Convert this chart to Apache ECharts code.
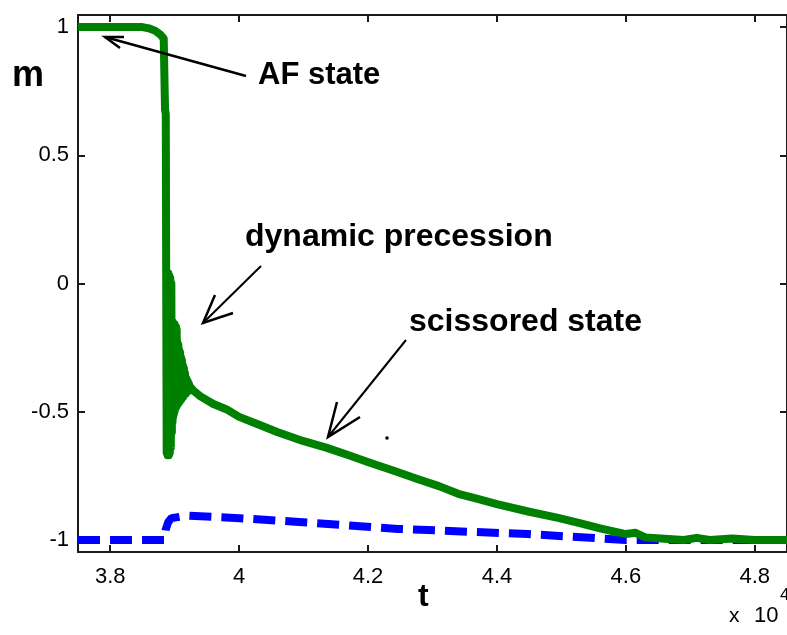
<!DOCTYPE html>
<html>
<head>
<meta charset="utf-8">
<script src="https://cdn.jsdelivr.net/npm/echarts@6/dist/echarts.min.js"></script>
<style>
  html, body { margin: 0; padding: 0; background: #fff; }
  #chart { width: 787px; height: 635px; }
</style>
</head>
<body>
<div id="chart"></div>
<script>
// tick positions (t in raw units, label shows t / 1e4)
var tTicks = [38000, 40000, 42000, 44000, 46000, 48000];
var mTicks = [-1, -0.5, 0, 0.5, 1];

// green curve: m(t), AF state -> dynamic precession -> scissored state
var greenT = [37500, 38500, 38600, 38700, 38780, 38830, 38842, 38850, 38862,
  38868, 38876, 38884, 38892, 38900, 38908, 38916, 38924, 38932, 38940, 38948, 38956,
  38961, 38966, 38971, 38976, 38981, 38986, 38991, 38996, 39001, 39006, 39011, 39016,
  39021, 39026, 39031, 39036, 39043, 39050, 39057, 39064, 39071, 39078, 39085, 39092,
  39099, 39106, 39113, 39120, 39128, 39135, 39143, 39150, 39160, 39170, 39180, 39190,
  39200, 39210, 39220, 39230,
  39300, 39400, 39600, 39800, 40000, 40300, 40600, 41000, 41350, 41700, 42040, 42400, 42800,
  43100, 43400, 43700, 44000, 44500, 44950, 45300, 45600, 46000, 46150, 46300, 46600, 46900,
  47100, 47300, 47650, 48000, 48500];
var greenM = [1.0, 1.0, 0.995, 0.985, 0.97, 0.955, 0.95, 0.68, 0.66,
  0.05, -0.66, 0.03, -0.67, 0.04, -0.67, 0.03, -0.66, 0.02, -0.64, 0.0, -0.58,
  -0.15, -0.54, -0.15, -0.52, -0.16, -0.51, -0.16, -0.50, -0.16, -0.49, -0.17, -0.48,
  -0.17, -0.48, -0.18, -0.47, -0.23, -0.47, -0.24, -0.46, -0.26, -0.46, -0.27, -0.45,
  -0.29, -0.45, -0.30, -0.44, -0.32, -0.44, -0.33, -0.43, -0.35, -0.43, -0.37, -0.42,
  -0.38, -0.42, -0.39, -0.40,
  -0.42, -0.44, -0.47, -0.49, -0.52, -0.55, -0.58, -0.615, -0.64, -0.67, -0.70, -0.73, -0.765,
  -0.79, -0.82, -0.84, -0.86, -0.89, -0.914, -0.935, -0.955, -0.977, -0.972, -0.99, -0.995, -1.0,
  -0.992, -1.0, -0.994, -1.0, -1.0];

// blue dashed curve
var blueT = [37500, 38840, 38860, 38900, 38950, 39200, 39600, 40000, 40930, 42470, 44480, 46000, 48500];
var blueM = [-1.0, -1.0, -0.96, -0.93, -0.915, -0.905, -0.91, -0.915, -0.93, -0.957, -0.977, -1.0, -1.0];

function pairs(xs, ys) {
  var out = [];
  for (var i = 0; i < xs.length; i++) out.push([xs[i], ys[i]]);
  return out;
}

var chart = echarts.init(document.getElementById('chart'), null, { renderer: 'canvas' });

var font = 'Liberation Sans, Arial, Helvetica, sans-serif';
var axisLine = { show: true, onZero: false, lineStyle: { color: '#1a1a1a', width: 2 } };
var tickStyle = { color: '#1a1a1a', width: 2 };

chart.setOption({
  animation: false,
  backgroundColor: '#fff',
  grid: { left: 78, top: 15, width: 711, height: 537, containLabel: false },
  xAxis: [{
    type: 'value', min: 37500, max: 48500, position: 'bottom',
    axisLine: axisLine,
    axisTick: { show: true, inside: true, length: 7, lineStyle: tickStyle, customValues: tTicks },
    axisLabel: {
      show: true, margin: 14, color: '#000', fontSize: 22, fontFamily: font,
      customValues: tTicks,
      formatter: function (v) { return String(v / 10000); }
    },
    splitLine: { show: false }
  }, {
    type: 'value', min: 37500, max: 48500, position: 'top',
    axisLine: axisLine,
    axisTick: { show: true, inside: true, length: 7, lineStyle: tickStyle, customValues: tTicks },
    axisLabel: { show: false },
    splitLine: { show: false }
  }],
  yAxis: [{
    type: 'value', min: -1.047, max: 1.047, position: 'left',
    axisLine: axisLine,
    axisTick: { show: true, inside: true, length: 7, lineStyle: tickStyle, customValues: mTicks },
    axisLabel: {
      show: true, margin: 9, color: '#000', fontSize: 22, fontFamily: font,
      customValues: mTicks,
      formatter: function (v) { return String(v); }
    },
    splitLine: { show: false }
  }, {
    type: 'value', min: -1.047, max: 1.047, position: 'right',
    axisLine: axisLine,
    axisTick: { show: true, inside: true, length: 7, lineStyle: tickStyle, customValues: mTicks },
    axisLabel: { show: false },
    splitLine: { show: false }
  }],
  series: [{
    name: 'blue', type: 'line', xAxisIndex: 0, yAxisIndex: 0,
    data: pairs(blueT, blueM), showSymbol: false, symbol: 'none', z: 2,
    lineStyle: { color: '#0000ff', width: 8, type: [22, 10], cap: 'butt' }
  }, {
    name: 'green', type: 'line', xAxisIndex: 0, yAxisIndex: 0,
    data: pairs(greenT, greenM), showSymbol: false, symbol: 'none', z: 3,
    lineStyle: { color: '#008000', width: 8, join: 'round', cap: 'butt' }
  }],
  graphic: [
    // axis names
    { type: 'text', left: 12, top: 58, style: { text: 'm', font: 'bold 36px ' + font, fill: '#000' } },
    { type: 'text', left: 418, top: 581, style: { text: 't', font: 'bold 32px ' + font, fill: '#000' } },
    { type: 'text', left: 729, top: 606, style: { text: 'x', font: '21px ' + font, fill: '#000' } },
    { type: 'text', left: 754, top: 605, style: { text: '10', font: '22px ' + font, fill: '#000' } },
    { type: 'text', left: 780, top: 587, style: { text: '4', font: '17px ' + font, fill: '#000' } },
    // annotations
    { type: 'text', left: 258, top: 60, style: { text: 'AF state', font: 'bold 31px ' + font, fill: '#000' } },
    { type: 'text', left: 245, top: 221, style: { text: 'dynamic precession', font: 'bold 32px ' + font, fill: '#000' } },
    { type: 'text', left: 409, top: 306, style: { text: 'scissored state', font: 'bold 32px ' + font, fill: '#000' } },
    // arrows
    { type: 'line', shape: { x1: 246, y1: 76, x2: 105, y2: 37 }, style: { stroke: '#000', lineWidth: 2.5 }, z: 10 },
    { type: 'polyline', shape: { points: [[124, 37], [105, 37], [120, 48]] }, style: { stroke: '#000', lineWidth: 2.5, fill: null }, z: 10 },
    { type: 'line', shape: { x1: 261, y1: 266, x2: 203, y2: 323 }, style: { stroke: '#000', lineWidth: 2 }, z: 10 },
    { type: 'polyline', shape: { points: [[215, 295], [203, 323], [233, 313]] }, style: { stroke: '#000', lineWidth: 2.5, fill: null }, z: 10 },
    { type: 'line', shape: { x1: 406, y1: 340, x2: 328, y2: 437 }, style: { stroke: '#000', lineWidth: 2 }, z: 10 },
    { type: 'polyline', shape: { points: [[337, 402], [328, 437], [360, 417]] }, style: { stroke: '#000', lineWidth: 2.5, fill: null }, z: 10 },
    { type: 'circle', shape: { cx: 387, cy: 438, r: 1.8 }, style: { fill: '#000' }, z: 10 }
  ]
});
</script>
</body>
</html>
